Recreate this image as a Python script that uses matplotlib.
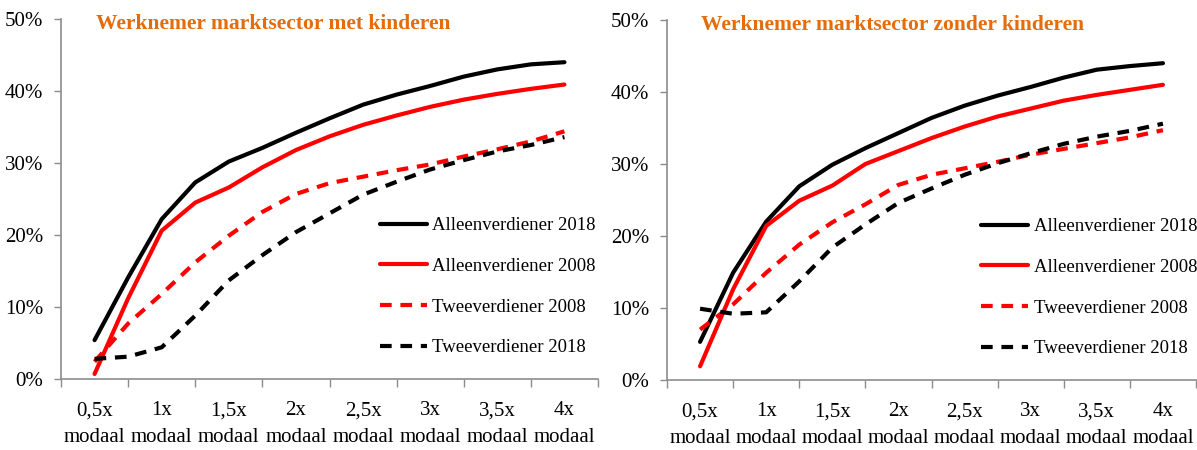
import matplotlib

matplotlib.use("Agg")
import matplotlib.pyplot as plt

# x in multiples of modaal income, read at quarter steps
X = [0.5, 0.75, 1.0, 1.25, 1.5, 1.75, 2.0, 2.25, 2.5, 2.75, 3.0, 3.25, 3.5, 3.75, 4.0]
CATS = [0.5, 1.0, 1.5, 2.0, 2.5, 3.0, 3.5, 4.0]
CAT_LABELS = ["0,5x\nmodaal", "1x\nmodaal", "1,5x\nmodaal", "2x\nmodaal",
              "2,5x\nmodaal", "3x\nmodaal", "3,5x\nmodaal", "4x\nmodaal"]

# met kinderen (%)
MET_ALLEEN_2018 = [5.4, 14.1, 22.2, 27.3, 30.2, 32.1, 34.2, 36.2, 38.1, 39.5, 40.7, 42.0, 43.0, 43.7, 44.0]
MET_ALLEEN_2008 = [0.7, 11.2, 20.6, 24.5, 26.6, 29.4, 31.8, 33.7, 35.3, 36.6, 37.8, 38.8, 39.6, 40.3, 40.9]
MET_TWEE_2008 = [2.4, 7.7, 11.8, 16.2, 19.9, 23.2, 25.7, 27.2, 28.1, 29.0, 29.8, 30.9, 31.9, 33.0, 34.4]
MET_TWEE_2018 = [2.8, 3.1, 4.4, 8.8, 13.7, 17.2, 20.4, 23.0, 25.6, 27.4, 29.1, 30.4, 31.6, 32.5, 33.6]

# zonder kinderen (%)
ZONDER_ALLEEN_2018 = [5.3, 14.9, 22.0, 26.9, 29.9, 32.2, 34.3, 36.4, 38.1, 39.5, 40.7, 42.0, 43.1, 43.6, 44.0]
ZONDER_ALLEEN_2008 = [1.9, 12.6, 21.4, 24.9, 27.0, 30.0, 31.8, 33.6, 35.2, 36.6, 37.7, 38.8, 39.6, 40.3, 41.0]
ZONDER_TWEE_2008 = [7.0, 10.5, 14.9, 18.8, 21.9, 24.4, 27.1, 28.5, 29.4, 30.3, 31.3, 32.1, 32.9, 33.7, 34.7]
ZONDER_TWEE_2018 = [9.9, 9.2, 9.4, 13.7, 18.4, 21.6, 24.6, 26.6, 28.5, 30.1, 31.5, 32.8, 33.8, 34.6, 35.6]

TITLES = ["Werknemer marktsector met kinderen", "Werknemer marktsector zonder kinderen"]
LABELS = ["Alleenverdiener 2018", "Alleenverdiener 2008", "Tweeverdiener 2008", "Tweeverdiener 2018"]

plt.rcParams["font.family"] = ["Liberation Serif", "DejaVu Serif"]

ORANGE = "#E46C0A"
GREY = "#8c8c8c"
DASH = (0, (2.8, 2.1))


def draw_panel(ax, series, title):
    styles = [("black", "-"), ("#ff0000", "-"), ("#ff0000", DASH), ("black", DASH)]
    for ys, (c, ls), lab in zip(series, styles, LABELS):
        ax.plot(X, [v / 100 for v in ys], color=c, linestyle=ls, lw=3,
                label=lab, solid_capstyle="round", solid_joinstyle="round",
                dash_capstyle="butt", dash_joinstyle="round")

    ax.set_xlim(0.25, 4.25)
    ax.set_ylim(0, 0.5)
    ax.set_xticks([c - 0.25 for c in CATS] + [4.25])
    ax.set_xticklabels([])
    ax.set_xticks(CATS, minor=True)
    ax.set_xticklabels(CAT_LABELS, minor=True, fontsize=15, linespacing=1.55)
    ax.tick_params(axis="x", which="minor", length=0, pad=16)
    ax.tick_params(axis="x", which="major", length=6, color=GREY, width=1)
    ax.set_yticks([0, 0.1, 0.2, 0.3, 0.4, 0.5])
    ax.set_yticklabels(["0%", "10%", "20%", "30%", "40%", "50%"], fontsize=15)
    ax.tick_params(axis="y", length=5, color=GREY, width=1, pad=8)

    for side in ("top", "right"):
        ax.spines[side].set_visible(False)
    for side in ("left", "bottom"):
        ax.spines[side].set_color(GREY)
        ax.spines[side].set_linewidth(1.2)

    ax.text(0.065, 1.015, title, transform=ax.transAxes, color=ORANGE,
            fontsize=15.5, fontweight="bold", va="top", ha="left")

    ax.legend(loc="upper left", bbox_to_anchor=(0.58, 0.47), frameon=False,
              fontsize=13.5, handlelength=2.5, handletextpad=0.3,
              labelspacing=1.25, borderaxespad=0)


fig = plt.figure(figsize=(11.97, 4.5), dpi=100)
ax1 = fig.add_axes([61 / 1197, 71 / 450, 537 / 1197, 360 / 450])
ax2 = fig.add_axes([667 / 1197, 70 / 450, 529 / 1197, 360 / 450])

draw_panel(ax1, [MET_ALLEEN_2018, MET_ALLEEN_2008, MET_TWEE_2008, MET_TWEE_2018], TITLES[0])
draw_panel(ax2, [ZONDER_ALLEEN_2018, ZONDER_ALLEEN_2008, ZONDER_TWEE_2008, ZONDER_TWEE_2018], TITLES[1])

fig.savefig("out.png", dpi=100)
